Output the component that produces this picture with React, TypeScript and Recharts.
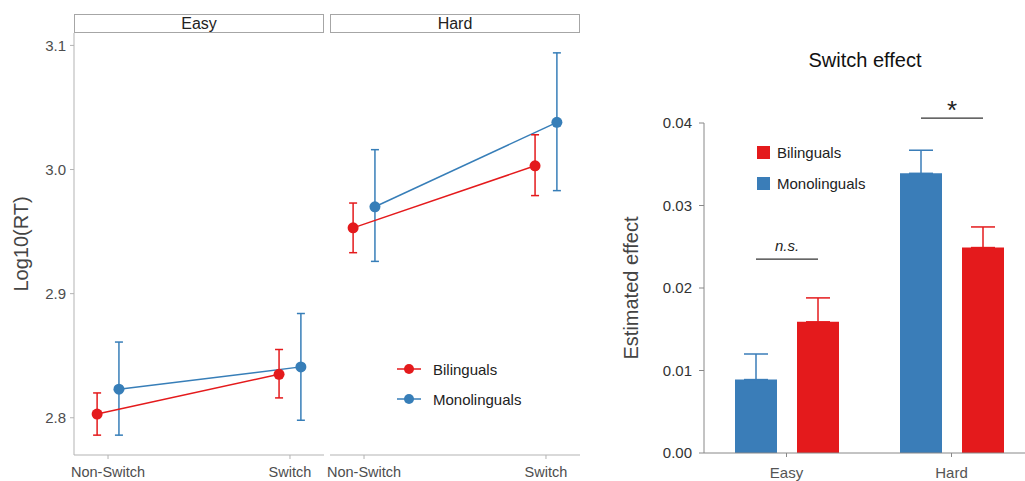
import React from "react";
import { LineChart, Line, XAxis, YAxis, ErrorBar, Legend, BarChart, Bar, LabelList } from "recharts";

const FONT = '"Liberation Sans", Arial, sans-serif';
const RED = "#E41A1C";
const BLUE = "#377EB8";

// left: log RT by condition, one facet per difficulty
const conditions = ["Non-Switch", "Switch"];
const groups = ["Bilinguals", "Monolinguals"];
const rtTicks = [2.8, 2.9, 3.0, 3.1];

const easyBilMean = [2.803, 2.835];
const easyBilLow = [2.786, 2.816];
const easyBilHigh = [2.82, 2.855];
const easyMonoMean = [2.823, 2.841];
const easyMonoLow = [2.786, 2.798];
const easyMonoHigh = [2.861, 2.884];

const hardBilMean = [2.953, 3.003];
const hardBilLow = [2.933, 2.979];
const hardBilHigh = [2.973, 3.028];
const hardMonoMean = [2.97, 3.038];
const hardMonoLow = [2.926, 2.983];
const hardMonoHigh = [3.016, 3.094];

// right: switch effect estimates
const difficulties = ["Easy", "Hard"];
const effectMono = [0.0089, 0.0339];
const effectMonoSE = [0.0031, 0.0028];
const effectBil = [0.0159, 0.0249];
const effectBilSE = [0.0029, 0.0025];
const effectSig = ["n.s.", "*"];
const effectSigLevel = [0.0235, 0.0406];
const effectTicks = [0, 0.01, 0.02, 0.03, 0.04];

const DODGE = 0.06;
const BAR_GAP = 20;

function rows(mean: number[], low: number[], high: number[], shift: number) {
  return mean.map((m, i) => ({ x: i + 1 + shift, y: m, err: [m - low[i], high[i] - m] }));
}

const effectRows = difficulties.map((d, i) => ({
  difficulty: d,
  mono: effectMono[i],
  monoErr: [0, effectMonoSE[i]],
  bil: effectBil[i],
  bilErr: [0, effectBilSE[i]],
  sig: effectSig[i],
}));

function LineKey({ payload }: any) {
  const items = [...(payload || [])].sort((a, b) => groups.indexOf(a.value) - groups.indexOf(b.value));
  return (
    <div>
      {items.map((p: any) => (
        <div key={p.value} style={{ display: "flex", alignItems: "center", height: 30 }}>
          <svg width={26} height={12} style={{ marginRight: 10 }}>
            <line x1={0} y1={6} x2={24} y2={6} stroke={p.color} strokeWidth={1.5} />
            <circle cx={12} cy={6} r={5} fill={p.color} />
          </svg>
          <span style={{ fontSize: 15, color: "#222", fontFamily: FONT }}>{p.value}</span>
        </div>
      ))}
    </div>
  );
}

function BarKey({ payload }: any) {
  const items = [...(payload || [])].sort((a, b) => groups.indexOf(a.value) - groups.indexOf(b.value));
  return (
    <div>
      {items.map((p: any) => (
        <div key={p.value} style={{ display: "flex", alignItems: "center", height: 31 }}>
          <span style={{ width: 13, height: 13, background: p.color, marginRight: 7, display: "inline-block" }} />
          <span style={{ fontSize: 15, color: "#222", fontFamily: FONT }}>{p.value}</span>
        </div>
      ))}
    </div>
  );
}

function SigMark(props: any) {
  const { x, y, width, height, index } = props;
  const bottom = y + height;
  const perUnit = height / effectBil[index];
  const lineY = bottom - effectSigLevel[index] * perUnit;
  const right = x + width / 2;
  const left = right - (width + BAR_GAP);
  const mid = (left + right) / 2;
  const star = effectSig[index] === "*";
  return (
    <g>
      <line x1={left} y1={lineY} x2={right} y2={lineY} stroke="#333" strokeWidth={1.3} />
      <text
        x={mid}
        y={star ? lineY + 1 : lineY - 8}
        textAnchor="middle"
        fontFamily={FONT}
        fontSize={star ? 26 : 15}
        fontStyle={star ? "normal" : "italic"}
        fill="#222"
      >
        {effectSig[index]}
      </text>
    </g>
  );
}

function Strip({ label, left }: { label: string; left: number }) {
  return (
    <div
      style={{
        position: "absolute",
        left,
        top: 14,
        width: 250,
        height: 19,
        boxSizing: "border-box",
        border: "1px solid #a6a6a6",
        background: "white",
        fontFamily: FONT,
        fontSize: 16,
        lineHeight: "17px",
        textAlign: "center",
        color: "#222",
      }}
    >
      {label}
    </div>
  );
}

interface PanelProps {
  bil: any[];
  mono: any[];
  first: boolean;
}

function RtPanel({ bil, mono, first }: PanelProps) {
  return (
    <LineChart
      width={first ? 326 : 256}
      height={481}
      margin={{ top: 33, right: 2, bottom: 0, left: first ? 0 : 4 }}
    >
      <XAxis
        type="number"
        dataKey="x"
        domain={[0.813, 2.187]}
        ticks={[1, 2]}
        allowDataOverflow
        height={26}
        tickFormatter={(v: number) => conditions[v - 1]}
        stroke="#b3b3b3"
        tick={{ fill: "#4d4d4d", fontSize: 14.5, fontFamily: FONT }}
        tickSize={4}
        tickMargin={8}
      />
      {first ? (
        <YAxis
          type="number"
          domain={[2.77, 3.11]}
          ticks={rtTicks}
          allowDataOverflow
          width={74}
          tickFormatter={(v: number) => v.toFixed(1)}
          stroke="#b3b3b3"
          tick={{ fill: "#4d4d4d", fontSize: 15, fontFamily: FONT }}
          tickSize={4}
          tickMargin={4}
          label={{
            value: "Log10(RT)",
            angle: -90,
            position: "insideLeft",
            offset: 21,
            style: { textAnchor: "middle", fontSize: 20, fill: "#444", fontFamily: FONT },
          }}
        />
      ) : (
        <YAxis type="number" domain={[2.77, 3.11]} allowDataOverflow hide />
      )}
      {!first && (
        <Legend
          layout="vertical"
          align="center"
          verticalAlign="middle"
          content={<LineKey />}
          wrapperStyle={{ left: 71, top: 354, width: "auto" }}
        />
      )}
      <Line
        data={mono}
        dataKey="y"
        name="Monolinguals"
        stroke={BLUE}
        strokeWidth={1.5}
        dot={{ r: 5.5, fill: BLUE, stroke: BLUE, strokeWidth: 0 }}
        activeDot={false}
        isAnimationActive={false}
      >
        <ErrorBar dataKey="err" direction="y" width={4} stroke={BLUE} strokeWidth={1.5} />
      </Line>
      <Line
        data={bil}
        dataKey="y"
        name="Bilinguals"
        stroke={RED}
        strokeWidth={1.5}
        dot={{ r: 5.5, fill: RED, stroke: RED, strokeWidth: 0 }}
        activeDot={false}
        isAnimationActive={false}
      >
        <ErrorBar dataKey="err" direction="y" width={4} stroke={RED} strokeWidth={1.5} />
      </Line>
    </LineChart>
  );
}

export default function App() {
  return (
    <div
      style={{
        position: "absolute",
        left: 0,
        top: 0,
        width: 1025,
        height: 481,
        overflow: "hidden",
        background: "white",
        fontFamily: FONT,
      }}
    >
      <div style={{ position: "absolute", left: 0, top: 0 }}>
        <RtPanel
          first
          bil={rows(easyBilMean, easyBilLow, easyBilHigh, -DODGE)}
          mono={rows(easyMonoMean, easyMonoLow, easyMonoHigh, DODGE)}
        />
      </div>
      <div style={{ position: "absolute", left: 326, top: 0 }}>
        <RtPanel
          first={false}
          bil={rows(hardBilMean, hardBilLow, hardBilHigh, -DODGE)}
          mono={rows(hardMonoMean, hardMonoLow, hardMonoHigh, DODGE)}
        />
      </div>
      <Strip label="Easy" left={74} />
      <Strip label="Hard" left={330} />

      <div
        style={{
          position: "absolute",
          left: 765,
          top: 50,
          width: 200,
          textAlign: "center",
          fontSize: 20,
          lineHeight: "20px",
          color: "#111",
        }}
      >
        Switch effect
      </div>
      <div style={{ position: "absolute", left: 600, top: 0 }}>
        <BarChart
          width={434}
          height={481}
          data={effectRows}
          margin={{ top: 123, right: 0, bottom: 0, left: 0 }}
          barSize={42}
          barGap={BAR_GAP}
        >
          <XAxis
            dataKey="difficulty"
            height={28}
            stroke="#888"
            tick={{ fill: "#555", fontSize: 15, fontFamily: FONT }}
            tickSize={4}
            tickMargin={10}
          />
          <YAxis
            domain={[0, 0.04]}
            ticks={effectTicks}
            allowDataOverflow
            width={104}
            tickFormatter={(v: number) => v.toFixed(2)}
            stroke="#888"
            tick={{ fill: "#333", fontSize: 15, fontFamily: FONT }}
            tickSize={5}
            tickMargin={7}
            label={{
              value: "Estimated effect",
              angle: -90,
              position: "insideLeft",
              offset: 31,
              style: { textAnchor: "middle", fontSize: 20, fill: "#444", fontFamily: FONT },
            }}
          />
          <Legend
            layout="vertical"
            align="center"
            verticalAlign="middle"
            content={<BarKey />}
            wrapperStyle={{ left: 157, top: 137, width: "auto" }}
          />
          <Bar dataKey="mono" name="Monolinguals" fill="#3A7DB8" isAnimationActive={false}>
            <ErrorBar dataKey="monoErr" direction="y" width={12} stroke="#3A7DB8" strokeWidth={1.5} />
          </Bar>
          <Bar dataKey="bil" name="Bilinguals" fill={RED} isAnimationActive={false}>
            <ErrorBar dataKey="bilErr" direction="y" width={12} stroke={RED} strokeWidth={1.5} />
            <LabelList dataKey="sig" content={<SigMark />} />
          </Bar>
        </BarChart>
      </div>
    </div>
  );
}
